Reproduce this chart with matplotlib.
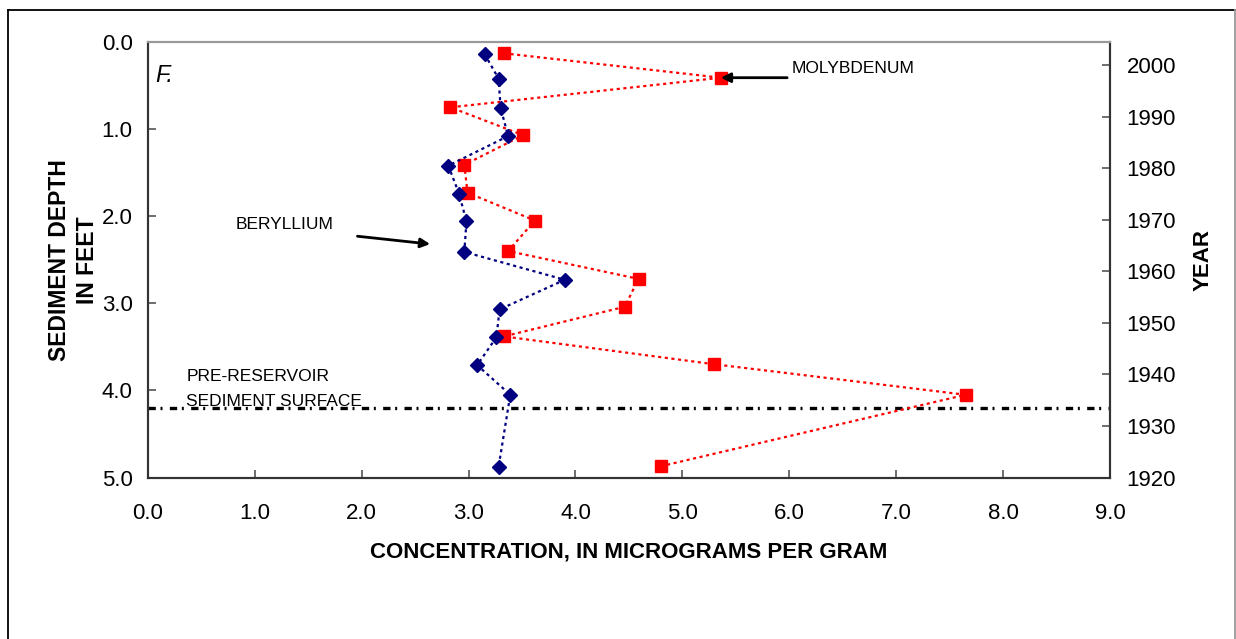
import matplotlib
matplotlib.use("Agg")
import matplotlib.pyplot as plt
from matplotlib.lines import Line2D

plt.rcParams["font.family"] = ["Liberation Sans", "DejaVu Sans"]

# Sediment core, depth below sediment surface (ft) and concentration (ug/g)
be_depth = [0.14, 0.42, 0.76, 1.08, 1.42, 1.74, 2.06, 2.41, 2.73, 3.07, 3.39, 3.71, 4.05, 4.88]
be_conc = [3.15, 3.28, 3.30, 3.37, 2.81, 2.91, 2.98, 2.96, 3.90, 3.29, 3.26, 3.08, 3.39, 3.28]

mo_depth = [0.13, 0.41, 0.75, 1.07, 1.41, 1.73, 2.05, 2.40, 2.72, 3.04, 3.38, 3.70, 4.05, 4.87]
mo_conc = [3.33, 5.36, 2.83, 3.51, 2.96, 2.99, 3.62, 3.37, 4.59, 4.46, 3.33, 5.30, 7.65, 4.80]

pre_reservoir_depth = 4.2

x_ticks = [0, 1, 2, 3, 4, 5, 6, 7, 8, 9]
depth_ticks = [0, 1, 2, 3, 4, 5]
year_ticks = [1920, 1930, 1940, 1950, 1960, 1970, 1980, 1990, 2000]
year_top = 2004.5   # year at depth 0.0

fig = plt.figure(figsize=(12.36, 6.39), dpi=100)
ax = fig.add_axes([0.1197, 0.2527, 0.7783, 0.6816])

# outer frame
fig.add_artist(Line2D([0.0065, 0.0065], [0.984, 0.0], color="black", lw=1.3))
fig.add_artist(Line2D([0.0065, 0.9992], [0.984, 0.984], color="black", lw=1.3))
fig.add_artist(Line2D([0.9992, 0.9992], [0.984, 0.0], color="#999999", lw=1.3))

ax.plot(mo_conc, mo_depth, color="#ff0000", lw=1.6, linestyle=(0, (1.4, 1.6)),
        marker="s", ms=8, mec="#ff0000", mfc="#ff0000", zorder=3)
ax.plot(be_conc, be_depth, color="#000080", lw=1.6, linestyle=(0, (1.4, 1.6)),
        marker="D", ms=6.8, mec="#000080", mfc="#000080", zorder=4)

ax.axhline(pre_reservoir_depth, color="black", lw=2.4,
           linestyle=(0, (2.2, 1.4, 0.6, 2.2)), zorder=2)

ax.set_xlim(0, 9)
ax.set_ylim(5, 0)
ax.set_xticks(x_ticks)
ax.set_xticklabels([f"{v:.1f}" for v in x_ticks])
ax.set_yticks(depth_ticks)
ax.set_yticklabels([f"{v:.1f}" for v in depth_ticks])
ax.tick_params(direction="in", length=6, width=1.2, color="#555555",
               labelsize=16, pad=11)
ax.tick_params(axis="x", pad=18)

for side in ["left", "bottom", "right"]:
    ax.spines[side].set_color("#333333")
    ax.spines[side].set_linewidth(1.5)
ax.spines["top"].set_color("#999999")
ax.spines["top"].set_linewidth(1.5)

ax.set_xlabel("CONCENTRATION, IN MICROGRAMS PER GRAM", fontsize=16,
              fontweight="bold", labelpad=13)
ax.set_ylabel("SEDIMENT DEPTH\nIN FEET", fontsize=16.5, fontweight="bold",
              labelpad=2, linespacing=1.25)

# year scale on the right
ax2 = ax.twinx()
ax2.set_ylim(1920, year_top)
ax2.set_yticks(year_ticks)
ax2.tick_params(direction="in", length=6, width=1.2, color="#555555",
                labelsize=16, pad=12)
for side in ["left", "bottom", "right"]:
    ax2.spines[side].set_color("#333333")
    ax2.spines[side].set_linewidth(1.5)
ax2.spines["top"].set_color("#999999")
ax2.spines["top"].set_linewidth(1.5)
ax2.set_ylabel("YEAR", fontsize=16, fontweight="bold", labelpad=12)

# labels and arrows
ax.text(0.07, 0.38, "F.", fontsize=17, style="italic", va="center", ha="left")
ax.annotate("MOLYBDENUM", xy=(5.36, 0.41), xytext=(6.02, 0.31),
            fontsize=12.5, va="center", ha="left")
ax.annotate("", xy=(5.36, 0.41), xytext=(5.98, 0.41),
            arrowprops=dict(arrowstyle="-|>", color="black", lw=2,
                            mutation_scale=14, shrinkA=0, shrinkB=0))
ax.text(0.82, 2.10, "BERYLLIUM", fontsize=12.5, va="center", ha="left")
ax.annotate("", xy=(2.64, 2.32), xytext=(1.96, 2.23),
            arrowprops=dict(arrowstyle="-|>", color="black", lw=2,
                            mutation_scale=14, shrinkA=0, shrinkB=0))
ax.text(0.36, 3.84, "PRE-RESERVOIR", fontsize=12.5, va="center", ha="left")
ax.text(0.36, 4.13, "SEDIMENT SURFACE", fontsize=12.5, va="center", ha="left")

fig.savefig("out.png", dpi=100)
